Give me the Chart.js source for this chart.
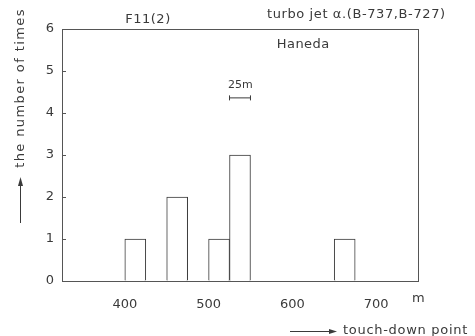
<!DOCTYPE html>
<html>
<head>
<meta charset="utf-8">
<script src="https://cdn.jsdelivr.net/npm/chart.js@4/dist/chart.umd.min.js"></script>
<style>
  html, body { margin: 0; padding: 0; background: #fff; }
  #wrap { width: 475px; height: 336px; }
</style>
</head>
<body>
<div id="wrap"><canvas id="c" width="475" height="336"></canvas></div>
<script>
// touch-down histogram, 25 m bins
const binCenters = [412.5, 462.5, 512.5, 537.5, 662.5];
const counts = [1, 2, 1, 3, 1];
const xTicks = [400, 500, 600, 700];
const yTicks = [0, 1, 2, 3, 4, 5, 6];
// 25 m scale bar drawn over the bars
const scaleBarX = [525, 550];
const scaleBarY = [4.36, 4.36];

const INK = '#3a3a3a';
const LINE = '#555';
const FONT = '"DejaVu Sans", sans-serif';

const annotations = {
    id: 'annotations',
    afterDraw(chart) {
        const { ctx, chartArea: a, scales } = chart;
        ctx.save();
        // frame around the plot
        ctx.strokeStyle = LINE;
        ctx.lineWidth = 1;
        ctx.strokeRect(a.left + 0.5, a.top + 0.5, a.right - a.left, a.bottom - a.top);

        ctx.fillStyle = INK;
        ctx.textBaseline = 'middle';
        ctx.textAlign = 'center';
        ctx.font = '13px ' + FONT;
        ctx.letterSpacing = '0.5px';
        ctx.fillText('F11(2)', 148, 20);
        ctx.fillText('Haneda', scales.x.getPixelForValue(613), scales.y.getPixelForValue(5.62));
        ctx.font = '11px ' + FONT;
        ctx.letterSpacing = '0px';
        ctx.fillText('25m', scales.x.getPixelForValue(538), scales.y.getPixelForValue(4.66));

        ctx.font = '13px ' + FONT;
        ctx.textAlign = 'left';
        ctx.letterSpacing = '0.6px';
        ctx.fillText('turbo jet \u03b1.(B-737,B-727)', 267, 15);
        ctx.letterSpacing = '0px';
        ctx.fillText('m', 412, 299);
        ctx.letterSpacing = '0.7px';
        ctx.fillText('touch-down point', 343, 331);

        // arrow for x title
        ctx.strokeStyle = INK;
        ctx.beginPath();
        ctx.moveTo(290, 331.5);
        ctx.lineTo(334, 331.5);
        ctx.stroke();
        ctx.beginPath();
        ctx.moveTo(337, 331.5);
        ctx.lineTo(329, 329);
        ctx.lineTo(329, 334);
        ctx.closePath();
        ctx.fill();

        // y title, rotated, with arrow pointing up
        ctx.save();
        ctx.translate(21, 88);
        ctx.rotate(-Math.PI / 2);
        ctx.textAlign = 'center';
        ctx.letterSpacing = '1.4px';
        ctx.fillText('the number of times', 0, 0);
        ctx.restore();
        ctx.beginPath();
        ctx.moveTo(20.5, 223);
        ctx.lineTo(20.5, 182);
        ctx.stroke();
        ctx.beginPath();
        ctx.moveTo(20.5, 177);
        ctx.lineTo(18, 186);
        ctx.lineTo(23, 186);
        ctx.closePath();
        ctx.fill();
        ctx.restore();
    }
};

new Chart(document.getElementById('c'), {
    type: 'bar',
    data: {
        datasets: [
            {
                data: binCenters.map((x, i) => ({ x: x, y: counts[i] })),
                backgroundColor: '#fff',
                borderColor: INK,
                borderWidth: 1,
                barPercentage: 1,
                categoryPercentage: 1,
            },
            {
                type: 'line',
                data: scaleBarX.map((x, i) => ({ x: x, y: scaleBarY[i] })),
                borderColor: INK,
                borderWidth: 1,
                pointStyle: 'line',
                rotation: 90,
                pointRadius: 2.5,
                pointBorderColor: INK,
                pointBorderWidth: 1,
            }
        ]
    },
    options: {
        responsive: false,
        animation: false,
        layout: { padding: { top: 29, right: 57, left: 0, bottom: 0 } },
        plugins: {
            legend: { display: false },
            tooltip: { enabled: false },
        },
        scales: {
            x: {
                type: 'linear',
                min: 325,
                max: 750,
                offset: false,
                afterBuildTicks: (s) => { s.ticks = xTicks.map(v => ({ value: v })); },
                afterFit: (s) => { s.height = 55; },
                grid: { display: false },
                border: { color: LINE },
                ticks: { color: INK, font: { family: FONT, size: 13 }, padding: 8, maxRotation: 0 },
            },
            y: {
                min: 0,
                max: 6,
                afterBuildTicks: (s) => { s.ticks = yTicks.map(v => ({ value: v })); },
                afterFit: (s) => { s.width = 62; },
                grid: { drawOnChartArea: false, drawTicks: true, tickLength: -4, tickColor: LINE },
                border: { color: LINE },
                ticks: { color: INK, font: { family: FONT, size: 13 }, padding: 12 },
            }
        }
    },
    plugins: [annotations]
});
</script>
</body>
</html>
